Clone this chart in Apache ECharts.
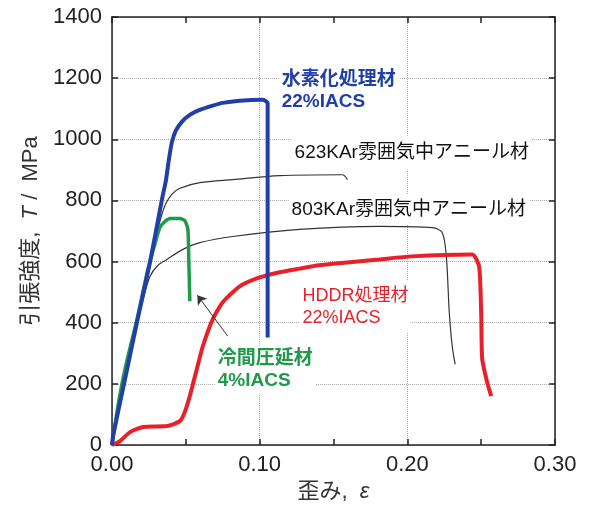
<!DOCTYPE html>
<html style="height: 100%">
<head>
    <meta charset="utf-8">
</head>
<body style="height: 100%; margin: 0">
<div id="chart_container" style="width: 589px; height: 508px"></div>
<script src="https://cdn.jsdelivr.net/npm/echarts@6/dist/echarts.min.js"></script>
<script type="text/javascript">

    // 歪み (x) と 引張強度 MPa (y) を図から読み取り
    var hydro_x = [0, 0.0007, 0.0088, 0.0169, 0.0257, 0.0338, 0.0365, 0.0385, 0.0405, 0.0432, 0.0473, 0.0527, 0.0595, 0.0676, 0.075, 0.0865, 0.102, 0.1054, 0.1054];
    var hydro_y = [0, 29, 215, 401, 597, 803, 865, 933, 989, 1028, 1057, 1080, 1096, 1109, 1119, 1126, 1129, 1119, 352];

    var anneal623_x = [0, 0.0088, 0.0169, 0.0257, 0.0305, 0.0335, 0.0365, 0.0405, 0.046, 0.0595, 0.0818, 0.1135, 0.156, 0.1595];
    var anneal623_y = [0, 215, 401, 597, 695, 750, 790, 820, 840, 858, 868, 881, 884, 868];

    var anneal803_x = [0, 0.0088, 0.0169, 0.021, 0.0257, 0.031, 0.0372, 0.048, 0.0595, 0.0818, 0.127, 0.181, 0.217, 0.2236, 0.2264, 0.2284, 0.2304, 0.2324];
    var anneal803_y = [0, 215, 401, 476, 551, 587, 607, 640, 662, 682, 705, 715, 711, 695, 617, 434, 323, 264];

    var hddr_x = [0, 0.0054, 0.0122, 0.021, 0.0372, 0.046, 0.0493, 0.0527, 0.0574, 0.0615, 0.0682, 0.075, 0.0865, 0.1, 0.1135, 0.127, 0.14, 0.159, 0.181, 0.203, 0.244, 0.2486, 0.25, 0.2507, 0.254, 0.2568];
    var hddr_y = [0, 13, 42, 59, 62, 78, 108, 160, 248, 323, 411, 467, 519, 548, 565, 577, 588, 597, 607, 617, 623, 584, 434, 281, 206, 160];

    var cold_x = [0, 0.004, 0.0088, 0.0169, 0.0243, 0.029, 0.0324, 0.0358, 0.0392, 0.046, 0.0493, 0.0514, 0.052, 0.0527];
    var cold_y = [0, 127, 248, 411, 574, 656, 711, 731, 741, 741, 734, 705, 607, 470];

    var x_ticks = [0, 0.1, 0.2, 0.3];

    function pairs(xs, ys) {
        var out = [];
        for (var i = 0; i < xs.length; i++) out.push([xs[i], ys[i]]);
        return out;
    }

    var font_family = "'Liberation Sans', Arial, 'Noto Sans CJK JP'";

    function note(coord, text, color, weight, size, pad) {
        return {
            coord: coord,
            symbol: 'circle',
            symbolSize: 0,
            label: {
                show: true,
                position: 'right',
                distance: 0,
                formatter: text,
                color: color,
                fontWeight: weight,
                fontSize: size,
                lineHeight: 22,
                fontFamily: font_family,
                backgroundColor: '#fff',
                padding: pad || [4, 3]
            }
        };
    }

    function frameAxis(kind, position) {
        var ax = {
            type: 'value',
            position: position,
            axisLine: {show: true, onZero: false, lineStyle: {color: '#222', width: 1.5}},
            axisTick: {show: true, inside: true, length: 6, lineStyle: {color: '#222', width: 1.5}},
            axisLabel: {show: false},
            splitLine: {show: false}
        };
        if (kind === 'x') {
            ax.min = 0;
            ax.max = 0.3;
            ax.interval = 0.1;
            ax.minorTick = {show: true, splitNumber: 2, length: 6, lineStyle: {color: '#222', width: 1.5}};
        } else {
            ax.min = 0;
            ax.max = 1400;
            ax.interval = 200;
        }
        return ax;
    }

    var bottom_x = frameAxis('x', 'bottom');
    bottom_x.axisLabel = {
        show: true, fontSize: 22, color: '#222', margin: 9, fontFamily: font_family,
        formatter: function (v) { return x_ticks.indexOf(Math.round(v * 10) / 10) >= 0 ? v.toFixed(2) : ''; }
    };
    bottom_x.splitLine = {show: true, lineStyle: {type: 'dotted', color: '#aaa', width: 1}};
    bottom_x.name = '歪み,  {i|ε}';
    bottom_x.nameLocation = 'middle';
    bottom_x.nameGap = 36;
    bottom_x.nameTextStyle = {
        fontSize: 22, color: '#333', fontFamily: font_family,
        rich: {i: {fontSize: 22, fontStyle: 'italic', color: '#333', fontFamily: font_family}}
    };

    var left_y = frameAxis('y', 'left');
    left_y.axisLabel = {
        show: true, fontSize: 22, color: '#222', margin: 10, fontFamily: font_family,
        formatter: function (v) { return String(v); }
    };
    left_y.splitLine = {show: true, lineStyle: {type: 'dotted', color: '#aaa', width: 1}};
    left_y.name = '引張強度,  {i|T} /  MPa';
    left_y.nameLocation = 'middle';
    left_y.nameRotate = 90;
    left_y.nameGap = 64;
    left_y.nameTextStyle = {
        fontSize: 22, color: '#333', fontFamily: font_family,
        rich: {i: {fontSize: 22, fontStyle: 'italic', color: '#333', fontFamily: font_family}}
    };

    var chart_option = {
        animation: false,
        backgroundColor: '#fff',
        grid: {left: 112, right: 34, top: 17, bottom: 62},
        xAxis: [bottom_x, frameAxis('x', 'top')],
        yAxis: [left_y, frameAxis('y', 'right')],
        series: [
            {
                name: '623K', type: 'line', showSymbol: false, smooth: 0.3,
                data: pairs(anneal623_x, anneal623_y),
                lineStyle: {color: '#333', width: 1.2},
                markPoint: {data: [note([0.1216, 956], '623KAr雰囲気中アニール材', '#111', 'normal', 19, [6, 3])]}
            },
            {
                name: '803K', type: 'line', showSymbol: false, smooth: 0.3,
                data: pairs(anneal803_x, anneal803_y),
                lineStyle: {color: '#333', width: 1.2},
                markPoint: {data: [note([0.1196, 770], '803KAr雰囲気中アニール材', '#111', 'normal', 19)]}
            },
            {
                name: 'HDDR', type: 'line', showSymbol: false, smooth: 0.2,
                data: pairs(hddr_x, hddr_y),
                lineStyle: {color: '#e8202a', width: 4},
                markPoint: {data: [note([0.127, 452], 'HDDR処理材\n22%IACS', '#e8202a', 'normal', 18)]}
            },
            {
                name: '冷間圧延材', type: 'line', showSymbol: false, smooth: 0.2,
                data: pairs(cold_x, cold_y),
                lineStyle: {color: '#1f9a4a', width: 3.5},
                markPoint: {data: [note([0.0696, 245], '冷間圧延材\n4%IACS', '#1f9a4a', 'bold', 19, [2, 3])]},
                markLine: {
                    silent: true,
                    symbol: ['none', 'arrow'],
                    symbolSize: 9,
                    label: {show: false},
                    lineStyle: {color: '#333', width: 1, type: 'solid'},
                    data: [[{coord: [0.0784, 356]}, {coord: [0.0578, 490]}]]
                }
            },
            {
                name: '水素化処理材', type: 'line', showSymbol: false, smooth: 0.2,
                data: pairs(hydro_x, hydro_y),
                lineStyle: {color: '#2040a8', width: 4},
                markPoint: {data: [note([0.1129, 1158], '水素化処理材\n22%IACS', '#2040a8', 'bold', 19)]}
            }
        ]
    };

    var chart = echarts.init(document.getElementById('chart_container'));
    chart.setOption(chart_option);
</script>
</body>
</html>
